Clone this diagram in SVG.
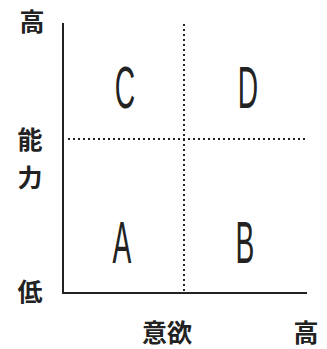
<svg xmlns="http://www.w3.org/2000/svg" width="327" height="349" viewBox="0 0 327 349">
<style>
.axis{stroke:#222;stroke-width:2;fill:none}
.dot{stroke:#222;stroke-width:2;stroke-dasharray:2 3;fill:none}
.cjk{font-family:"Noto Sans CJK JP","Noto Sans CJK SC",sans-serif;font-size:25px;font-weight:bold;fill:#222}
.big{font-family:"Liberation Sans",Arial,sans-serif;font-size:60px;fill:#222}
</style>
<rect width="327" height="349" fill="#fff"/>
<g id="connectors">
<path class="axis" d="M63 23 V293 H307"/>
<path class="dot" d="M68 139 H307"/>
<path class="dot" d="M184 24 V292"/>
</g>
<g id="labels">
<text class="cjk" x="32" y="31" text-anchor="middle">高</text>
<text class="cjk" x="30" y="149" text-anchor="middle">能</text>
<text class="cjk" x="30" y="187" text-anchor="middle">力</text>
<text class="cjk" x="30" y="301" text-anchor="middle">低</text>
<text class="cjk" x="167" y="342" text-anchor="middle">意欲</text>
<text class="cjk" x="306" y="342" text-anchor="middle">高</text>
</g>
<g id="C"><text class="big" transform="translate(125 108) scale(0.47 1)" text-anchor="middle">C</text></g>
<g id="D"><text class="big" transform="translate(248 108) scale(0.47 1)" text-anchor="middle">D</text></g>
<g id="A"><text class="big" transform="translate(122 263) scale(0.47 1)" text-anchor="middle">A</text></g>
<g id="B"><text class="big" transform="translate(245 263) scale(0.47 1)" text-anchor="middle">B</text></g>
</svg>
